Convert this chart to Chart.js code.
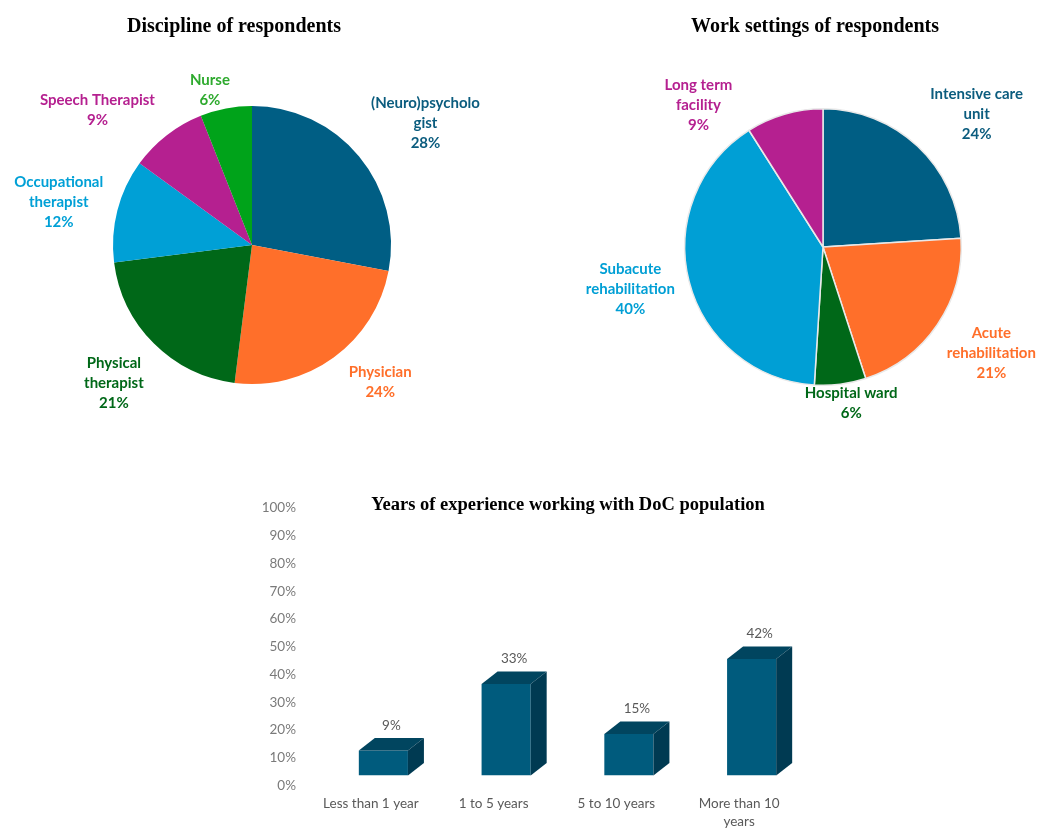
<!DOCTYPE html>
<html>
<head>
<meta charset="utf-8">
<script src="https://cdn.jsdelivr.net/npm/chart.js@4/dist/chart.umd.min.js"></script>
<style>
html,body{margin:0;padding:0;background:#ffffff;}
#wrap{position:relative;width:1040px;height:828px;overflow:hidden;background:#ffffff;}
#wrap canvas{position:absolute;left:0;top:0;}
</style>
</head>
<body>
<div id="wrap">
<canvas id="c1" width="1040" height="828"></canvas>
<canvas id="c2" width="1040" height="828"></canvas>
<canvas id="c3" width="1040" height="828"></canvas>
</div>
<script>
// ---------------- data ----------------
const disciplineLabels = [["(Neuro)psycholo","gist"],["Physician"],["Physical","therapist"],["Occupational","therapist"],["Speech Therapist"],["Nurse"]];
const disciplineValues = [28, 24, 21, 12, 9, 6];

const settingLabels = [["Intensive care","unit"],["Acute","rehabilitation"],["Hospital ward"],["Subacute","rehabilitation"],["Long term","facility"]];
const settingValues = [24, 21, 6, 40, 9];

const experienceLabels = ["Less than 1 year","1 to 5 years","5 to 10 years",["More than 10","years"]];
const experienceValues = [9, 33, 15, 42];

const yTickValues = [0,10,20,30,40,50,60,70,80,90,100];

// ---------------- styles ----------------
const disciplineColors = ["#005E84","#FF6F2A","#006818","#00A0D6","#B52090","#00A31A"];
const disciplineTextColors = ["#0B5C7E","#FF6F2A","#006818","#00A0D6","#B52090","#2EAA2E"];
const settingColors = ["#005E84","#FF6F2A","#006818","#009FD5","#B52090"];
const settingTextColors = ["#0B5C7E","#FF6F2A","#006818","#009FD5","#B52090"];

// ---------------- plugins ----------------
const fixedTitle = {
  id: 'fixedTitle',
  afterDraw(chart, args, opts) {
    const ctx = chart.ctx;
    ctx.save();
    ctx.font = opts.font;
    ctx.fillStyle = opts.color || '#000';
    ctx.textAlign = 'center';
    ctx.textBaseline = 'middle';
    ctx.fillText(opts.text, opts.x, opts.y);
    ctx.restore();
  }
};

const pieLabels = {
  id: 'pieLabels',
  afterDatasetsDraw(chart, args, opts) {
    const ctx = chart.ctx;
    const meta = chart.getDatasetMeta(0);
    const values = chart.data.datasets[0].data;
    ctx.save();
    ctx.font = opts.font;
    ctx.textAlign = 'center';
    ctx.textBaseline = 'middle';
    meta.data.forEach((arc, i) => {
      const p = arc.getProps(['x','y','startAngle','endAngle','outerRadius'], true);
      const m = (p.startAngle + p.endAngle) / 2 + (opts.angleNudge[i] || 0) * Math.PI / 180;
      const lines = opts.lines[i].concat([values[i] + '%']);
      let w = 0;
      lines.forEach(t => { w = Math.max(w, ctx.measureText(t).width); });
      const h = lines.length * opts.lineHeight;
      const cx0 = Math.cos(m), sy0 = Math.sin(m);
      const half = Math.abs(cx0) * w / 2 + Math.abs(sy0) * h / 2;
      const d = p.outerRadius + opts.gap + half + (opts.distNudge[i] || 0);
      const cx = p.x + cx0 * d;
      const cy = p.y + sy0 * d;
      ctx.fillStyle = opts.colors[i];
      lines.forEach((t, k) => {
        ctx.fillText(t, cx, cy + (k - (lines.length - 1) / 2) * opts.lineHeight);
      });
    });
    ctx.restore();
  }
};

const bar3d = {
  id: 'bar3d',
  afterDatasetsDraw(chart, args, opts) {
    const ctx = chart.ctx;
    const meta = chart.getDatasetMeta(0);
    const values = chart.data.datasets[0].data;
    ctx.save();
    meta.data.forEach((bar, i) => {
      const p = bar.getProps(['x','y','base','width'], true);
      const l = p.x - p.width / 2, r = p.x + p.width / 2;
      const dx = opts.dx, dy = opts.dy;
      // top face
      ctx.fillStyle = opts.topColor;
      ctx.beginPath();
      ctx.moveTo(l, p.y);
      ctx.lineTo(l + dx, p.y - dy);
      ctx.lineTo(r + dx, p.y - dy);
      ctx.lineTo(r, p.y);
      ctx.closePath();
      ctx.fill();
      // side face
      ctx.fillStyle = opts.sideColor;
      ctx.beginPath();
      ctx.moveTo(r, p.y);
      ctx.lineTo(r + dx, p.y - dy);
      ctx.lineTo(r + dx, p.base - dy);
      ctx.lineTo(r, p.base);
      ctx.closePath();
      ctx.fill();
      // value label
      ctx.fillStyle = opts.labelColor;
      ctx.font = opts.font;
      ctx.textAlign = 'center';
      ctx.textBaseline = 'middle';
      ctx.fillText(values[i] + '%', p.x + dx / 2, p.y - dy - opts.labelGap);
    });
    ctx.restore();
  }
};

function draw() {
  // Pie 1
  new Chart(document.getElementById('c1'), {
    type: 'pie',
    data: {
      labels: disciplineLabels.map(a => a.join('')),
      datasets: [{ data: disciplineValues, backgroundColor: disciplineColors, borderWidth: 0 }]
    },
    options: {
      responsive: false, animation: false,
      layout: { padding: { left: 113, right: 1040 - 391, top: 106, bottom: 828 - 384 } },
      plugins: {
        legend: { display: false }, tooltip: { enabled: false },
        fixedTitle: { text: 'Discipline of respondents', x: 234, y: 27, font: 'bold 20px "Liberation Serif"', color: '#000' },
        pieLabels: {
          lines: disciplineLabels, colors: disciplineTextColors,
          font: 'bold 15px Lato', lineHeight: 20, gap: 10,
          angleNudge: [4.6, -7, 0, -2, -11, -4.4],
          distNudge: [1, 3, 4, -1, 0, -13]
        }
      }
    },
    plugins: [fixedTitle, pieLabels]
  });

  // Pie 2
  new Chart(document.getElementById('c2'), {
    type: 'pie',
    data: {
      labels: settingLabels.map(a => a.join(' ')),
      datasets: [{ data: settingValues, backgroundColor: settingColors, borderWidth: 1.5, borderColor: '#e9e9e9' }]
    },
    options: {
      responsive: false, animation: false,
      layout: { padding: { left: 684, right: 1040 - 962, top: 108, bottom: 828 - 386 } },
      plugins: {
        legend: { display: false }, tooltip: { enabled: false },
        fixedTitle: { text: 'Work settings of respondents', x: 815, y: 27, font: 'bold 20px "Liberation Serif"', color: '#000' },
        pieLabels: {
          lines: settingLabels, colors: settingTextColors,
          font: 'bold 15px Lato', lineHeight: 20, gap: 10,
          angleNudge: [6, -2, -3, 2, -25],
          distNudge: [0, -3, -17, -1, -4]
        }
      }
    },
    plugins: [fixedTitle, pieLabels]
  });

  // 3D-look bar chart
  new Chart(document.getElementById('c3'), {
    type: 'bar',
    data: {
      labels: experienceLabels,
      datasets: [{ data: experienceValues, backgroundColor: '#005B7D', borderWidth: 0, barPercentage: 0.4, categoryPercentage: 1 }]
    },
    options: {
      responsive: false, animation: false,
      layout: { padding: { left: 242, right: 1040 - 813, top: 498, bottom: 0 } },
      scales: {
        x: {
          grid: { display: false, drawTicks: false }, border: { display: false },
          ticks: { color: '#595959', font: { family: 'Lato', size: 13.5, lineHeight: 18 / 13.5 }, padding: 19.5, labelOffset: -12.5, maxRotation: 0, autoSkip: false },
          afterFit(s) { s.height = 52.5; }
        },
        y: {
          min: 0, max: 100,
          afterBuildTicks(s) { s.ticks = yTickValues.map(v => ({ value: v })); },
          grid: { display: false, drawTicks: false }, border: { display: false },
          ticks: { color: '#7a7a7a', font: { family: 'Lato', size: 13.5 }, padding: 26, labelOffset: 10, callback: v => v + '%' },
          afterFit(s) { s.width = 80; }
        }
      },
      plugins: {
        legend: { display: false }, tooltip: { enabled: false },
        fixedTitle: { text: 'Years of experience working with DoC population', x: 568, y: 505, font: 'bold 18.5px "Liberation Serif"', color: '#000' },
        bar3d: { dx: 16, dy: 12.5, topColor: '#01455F', sideColor: '#003A52', labelColor: '#595959', font: '13.5px Lato', labelGap: 12.5 }
      }
    },
    plugins: [fixedTitle, bar3d]
  });
}

if (document.fonts && document.fonts.load) {
  Promise.all([
    document.fonts.load('bold 15px Lato'),
    document.fonts.load('13.5px Lato'),
    document.fonts.load('bold 18px "Liberation Serif"')
  ]).then(draw, draw);
} else {
  draw();
}
</script>
</body>
</html>
